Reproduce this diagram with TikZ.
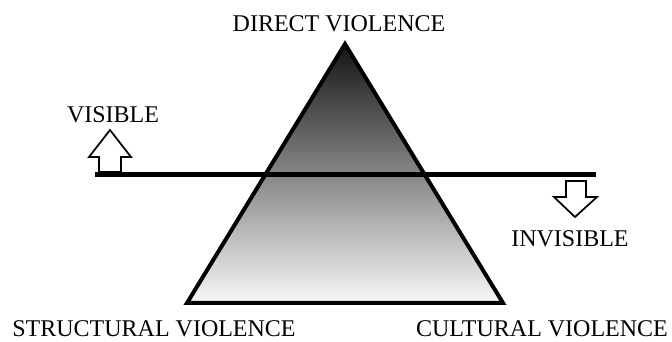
\documentclass[tikz,border=0pt]{standalone}
\usepackage{fontspec}
\setmainfont{Liberation Serif}
\begin{document}
\begin{tikzpicture}[x=0.75pt,y=-0.75pt,font=\fontsize{18}{20}\selectfont,line join=miter]
\useasboundingbox (0,0) rectangle (672,342);
\tikzset{label/.style={anchor=base,inner sep=0pt},
  hollow/.style={draw,line width=1.3pt,fill=white}}
% triangle corners
\coordinate (apex) at (345,44);
\coordinate (sv) at (187,303);
\coordinate (cv) at (503,303);
\shade[top color=black!92,bottom color=black!3] (apex) -- (sv) -- (cv) -- cycle;
\draw[line width=3pt] (apex) -- (sv) -- (cv) -- cycle;
% dividing line
\coordinate (lineL) at (95,174.5); \coordinate (lineR) at (596,174.5);
\draw[line width=4.2pt] (lineL) -- (lineR);
% arrows
\draw[hollow] (110,130) -- (131,157) -- (121,157) -- (121,172) -- (99,172) -- (99,157) -- (89,157) -- cycle;
\draw[hollow] (575,217) -- (597,197) -- (586,197) -- (586,181) -- (566,181) -- (566,197) -- (554,197) -- cycle;
% labels
\node[label] (direct) at (339,32) {DIRECT VIOLENCE};
\node[label] (visible) at (113,123) {VISIBLE};
\node[label] (invisible) at (570,247) {INVISIBLE};
\node[label] (structural) at (154,337) {STRUCTURAL VIOLENCE};
\node[label] (cultural) at (542,337) {CULTURAL VIOLENCE};
\end{tikzpicture}
\end{document}
